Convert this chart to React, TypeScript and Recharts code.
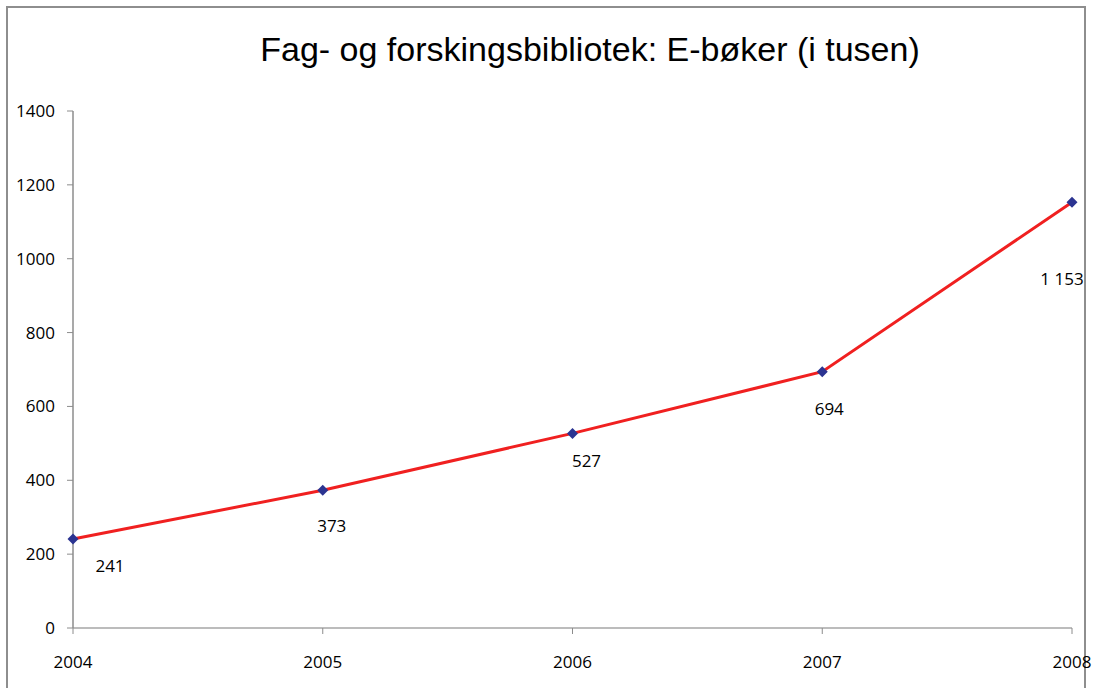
import React from "react";
import { LineChart, Line, XAxis, YAxis, LabelList } from "recharts";

const years = [2004, 2005, 2006, 2007, 2008];
const ebooks = [241, 373, 527, 694, 1153];
const yTicks = [0, 200, 400, 600, 800, 1000, 1200, 1400];

const rows = years.map((y, i) => ({ year: y, value: ebooks[i] }));

// label nudges (Excel placed them a bit irregularly)
const LABEL_OFFSET: [number, number][] = [
  [37, 26],
  [9, 35],
  [14, 27],
  [7, 37],
  [-10, 76],
];

const fmt = (v: number) => String(v).replace(/\B(?=(\d{3})+(?!\d))/g, " ");

const FONT = "'Open Sans', 'Noto Sans', sans-serif";

function Diamond(props: any) {
  const { cx, cy } = props;
  if (cx == null || cy == null) return null;
  const r = 5.5;
  return (
    <polygon
      points={`${cx},${cy - r} ${cx + r},${cy} ${cx},${cy + r} ${cx - r},${cy}`}
      fill="#2b3491"
    />
  );
}

function ValueLabel(props: any) {
  const { x, y, value, index } = props;
  const [dx, dy] = LABEL_OFFSET[index] ?? [0, 28];
  return (
    <text
      x={x + dx}
      y={y + dy}
      textAnchor="middle"
      dominantBaseline="central"
      fontFamily={FONT}
      fontSize={17}
      fill="#000"
    >
      {fmt(value)}
    </text>
  );
}

export default function App() {
  return (
    <div
      style={{
        position: "absolute",
        left: 0,
        top: 0,
        width: 1095,
        height: 688,
        background: "#fff",
        overflow: "hidden",
      }}
    >
      <div
        style={{
          position: "absolute",
          left: 6,
          top: 6,
          width: 1080,
          height: 700,
          border: "2px solid #8e8e8e",
          boxSizing: "border-box",
        }}
      />
      <div
        style={{
          position: "absolute",
          left: 0,
          width: 1180,
          top: 27,
          textAlign: "center",
          fontFamily: "'Liberation Sans', Arial, sans-serif",
          fontSize: 34,
          lineHeight: "44px",
          color: "#000",
        }}
      >
        Fag- og forskingsbibliotek: E-bøker (i tusen)
      </div>
      <div style={{ position: "absolute", left: 0, top: 0 }}>
        <LineChart
          width={1095}
          height={688}
          data={rows}
          margin={{ top: 111, right: 23, bottom: 30, left: 13 }}
        >
          <XAxis
            dataKey="year"
            type="number"
            domain={[2004, 2008]}
            ticks={years}
            height={30}
            tickSize={6}
            tickMargin={22}
            axisLine={{ stroke: "#a6a6a6", strokeWidth: 1.5 }}
            tickLine={{ stroke: "#8c8c8c" }}
            tick={{ fill: "#000", fontSize: 17, fontFamily: FONT }}
          />
          <YAxis
            domain={[0, 1400]}
            ticks={yTicks}
            width={60}
            tickSize={6}
            tickMargin={12}
            axisLine={{ stroke: "#8c8c8c", strokeWidth: 1.5 }}
            tickLine={{ stroke: "#8c8c8c" }}
            tick={{ fill: "#000", fontSize: 17, fontFamily: FONT }}
          />
          <Line
            type="linear"
            dataKey="value"
            stroke="#f02020"
            strokeWidth={3}
            dot={<Diamond />}
            activeDot={false}
            isAnimationActive={false}
          >
            <LabelList dataKey="value" content={<ValueLabel />} />
          </Line>
        </LineChart>
      </div>
    </div>
  );
}
